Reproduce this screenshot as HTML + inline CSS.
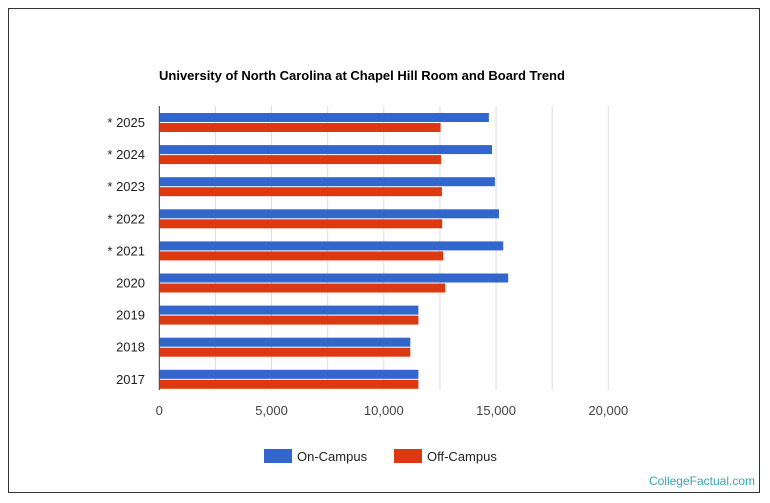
<!DOCTYPE html>
<html><head><meta charset="utf-8"><style>
body{margin:0;background:#fff;font-family:"Liberation Sans",sans-serif;}
#frame{position:absolute;left:8px;top:8px;width:752px;height:485px;border:1px solid #333;box-sizing:border-box;}
</style></head><body>
<div id="frame"></div>
<svg width="770" height="503" style="position:absolute;left:0;top:0">
<text x="159" y="80" font-size="13" font-weight="bold" fill="#000">University of North Carolina at Chapel Hill Room and Board Trend</text>
<g id="grid"></g><g id="bars"></g><g id="labels"></g>
<g>
<rect x="264" y="449" width="28" height="14" fill="#3366cc"/>
<text x="297" y="461" font-size="13" fill="#222">On-Campus</text>
<rect x="394" y="449" width="28" height="14" fill="#dc3912"/>
<text x="427" y="461" font-size="13" fill="#222">Off-Campus</text>
</g>
<text x="755" y="485" font-size="12" fill="#3aa3b5" text-anchor="end">CollegeFactual.com</text>
</svg>
<script>
const categories=["* 2025","* 2024","* 2023","* 2022","* 2021","2020","2019","2018","2017"];
const onCampus=[14680,14820,14950,15130,15320,15540,11540,11180,11540];
const offCampus=[12530,12550,12590,12600,12650,12740,11540,11180,11540];
const xTicks=[0,5000,10000,15000,20000];
const ns="http://www.w3.org/2000/svg";
const x0=159.3,pxPer=449/20000;
const X=v=>x0+v*pxPer;
const rowTop=i=>113+i*32.1;
const grid=document.getElementById('grid'),bars=document.getElementById('bars'),labels=document.getElementById('labels');
function mk(tag,attrs,parent){const e=document.createElementNS(ns,tag);for(const k in attrs)e.setAttribute(k,attrs[k]);parent.appendChild(e);return e;}
for(let v=2500;v<=20000;v+=2500){
 const l=mk('line',{x1:X(v),x2:X(v),y1:106,y2:390,stroke:'#ddd','stroke-width':1},grid);
 
 
}
xTicks.forEach(v=>{
 const t=mk('text',{x:X(v),y:415,'font-size':13,fill:'#444','text-anchor':'middle'},labels);
 t.textContent=v.toLocaleString('en-US');
 
 
});
categories.forEach((c,i)=>{
 const y=rowTop(i);
 const b=mk('rect',{x:x0,y:y,width:X(onCampus[i])-x0,height:9,fill:'#3366cc'},bars);
 
 
 const r=mk('rect',{x:x0,y:y+10,width:X(offCampus[i])-x0,height:9,fill:'#dc3912'},bars);
 
 
 const t=mk('text',{x:145,y:y+14,'font-size':13,fill:'#222','text-anchor':'end'},labels);
 t.textContent=c;
 
 
});
const ax=mk('line',{x1:x0,x2:x0,y1:106,y2:390,stroke:'#333','stroke-width':1},grid);


</script>
</body></html>
